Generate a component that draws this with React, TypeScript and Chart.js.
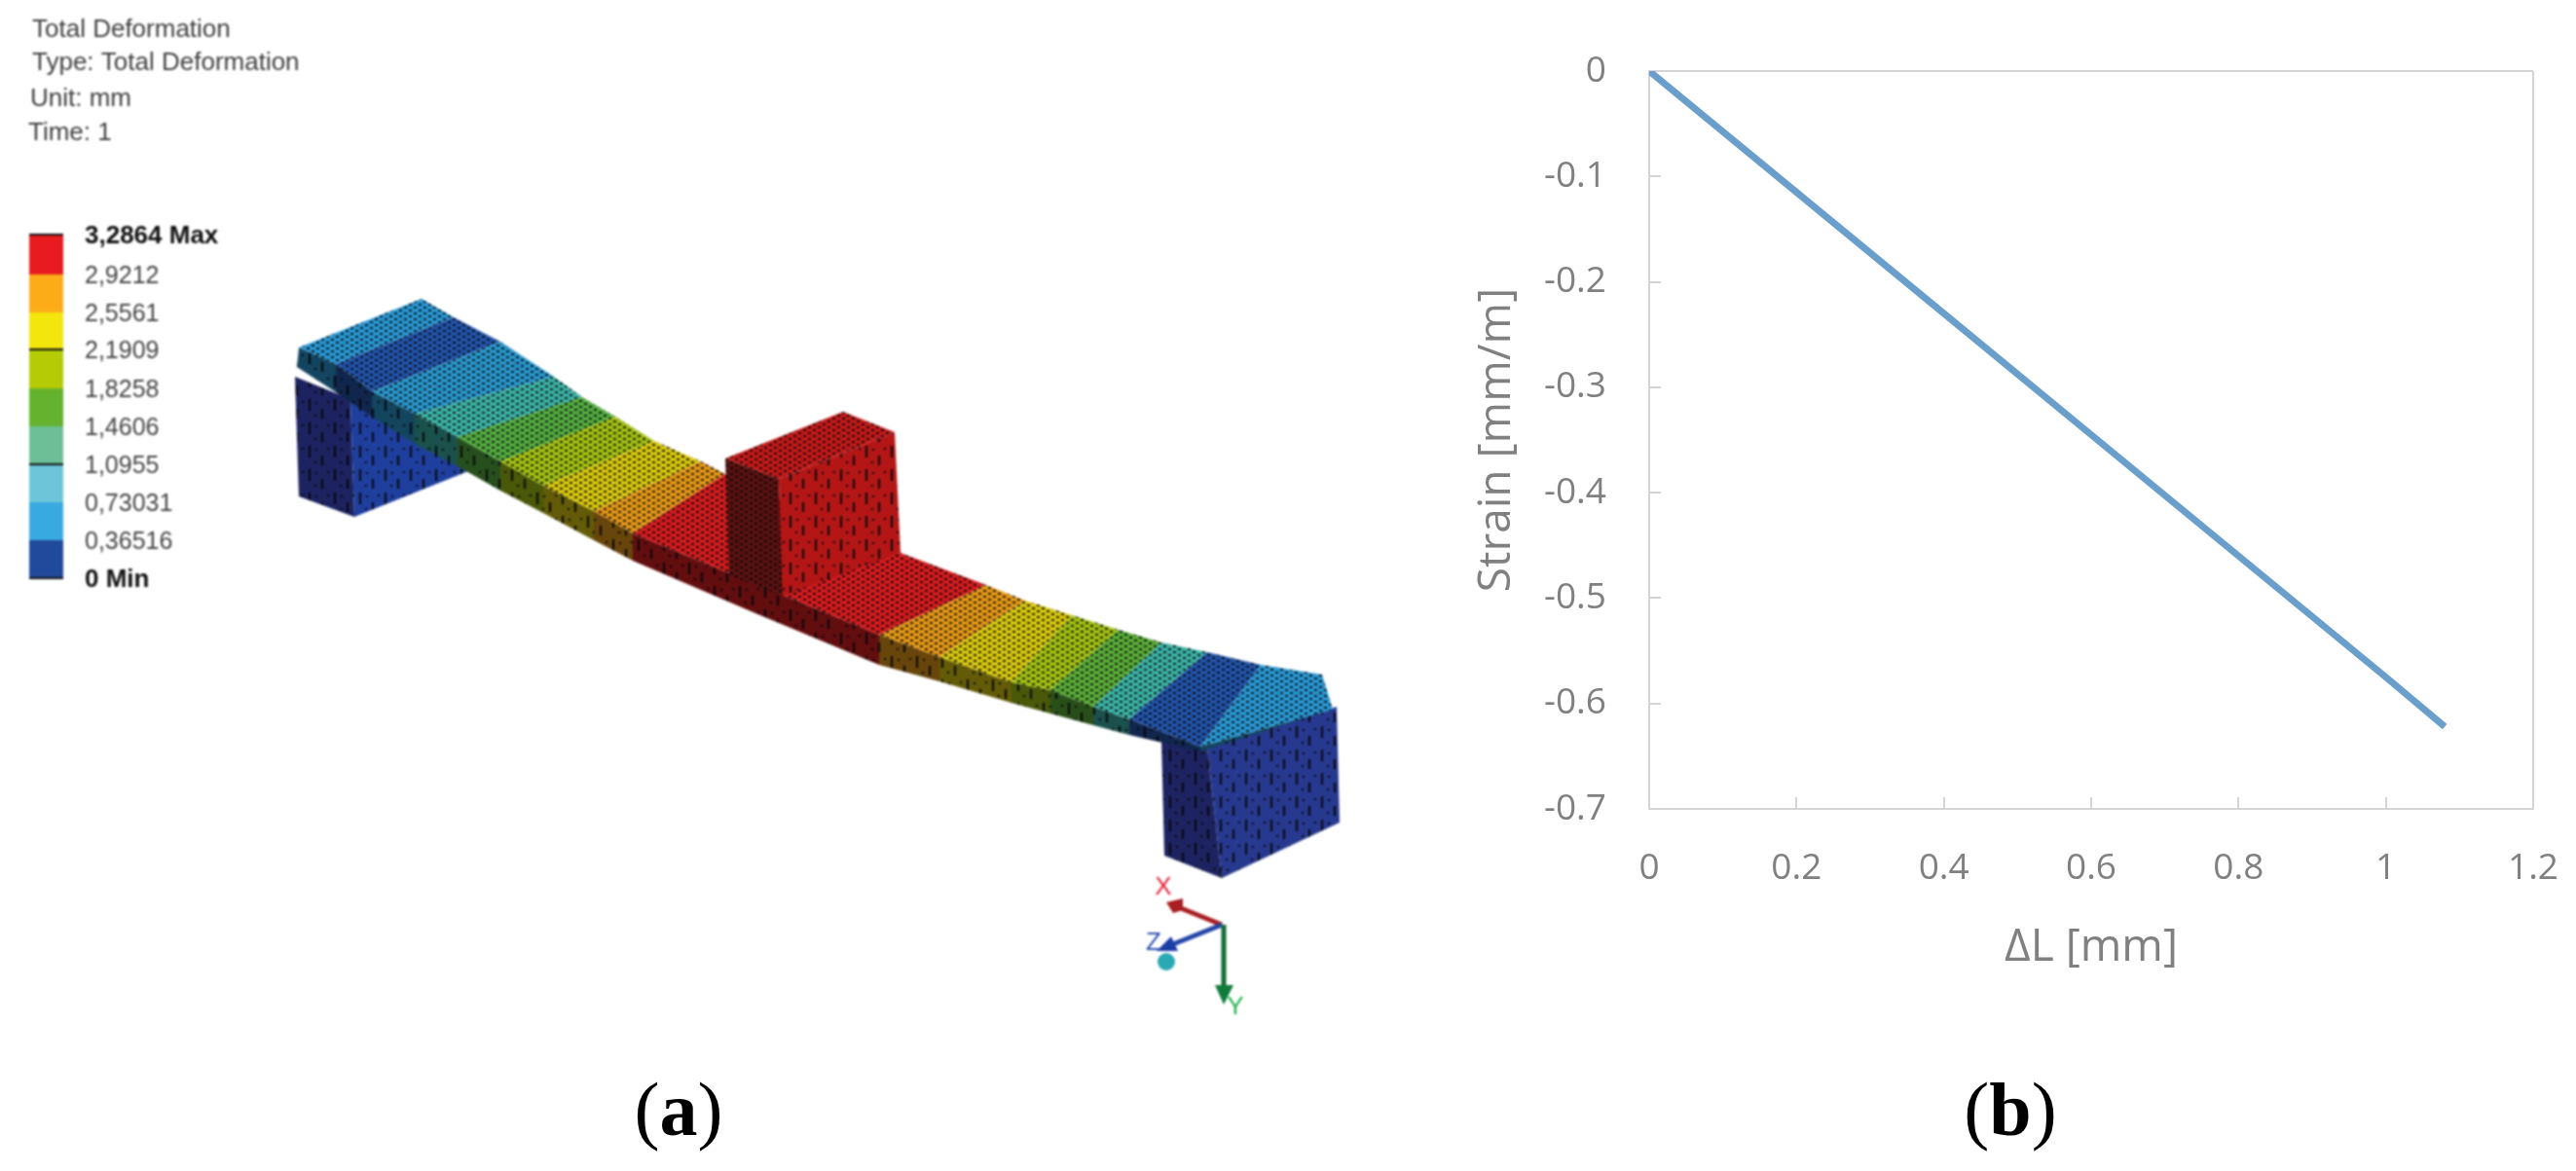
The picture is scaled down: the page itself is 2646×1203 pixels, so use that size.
import React, { useEffect, useRef } from "react";
import Chart from "chart.js/auto";

type Pt = [number, number];

const WIDTH = 2646;
const HEIGHT = 1203;

// panel (b)
const lengthChange = [0, 0.2, 0.4, 0.6, 0.8, 1, 1.08];
const strain = [0, -0.115, -0.23, -0.345, -0.46, -0.575, -0.622];
const xTickLabels = ["0", "0.2", "0.4", "0.6", "0.8", "1", "1.2"];
const yTickLabels = ["-0.7", "-0.6", "-0.5", "-0.4", "-0.3", "-0.2", "-0.1", "0"];

// panel (a) header + colour bar
const headerLines = ["Total Deformation", "Type: Total Deformation", "Unit: mm", "Time: 1"];
const headerRows = [31, 65, 102, 137];
const headerColumns = [33, 33, 31, 29];
const legendLabels = ["3,2864 Max", "2,9212", "2,5561", "2,1909", "1,8258", "1,4606", "1,0955", "0,73031", "0,36516", "0 Min"];
const legendEdges = [241, 282, 321, 359, 399, 438, 477, 516, 555, 594];
const legendLines = [241, 359, 477, 594];
const legendColors = ["#e81c20", "#fbac18", "#f3e60d", "#b4cb05", "#65b22e", "#6dbf97", "#6cc5d8", "#39a9e1", "#224a9c"];

// panel (a) beam
const backEdge: Pt[] = [[433, 307], [466, 326], [514, 351], [569, 387], [598, 408], [632, 428], [672, 453], [720, 474], [745, 487], [925, 568], [1013, 601], [1053, 617], [1101, 632], [1149, 647], [1193, 660], [1240, 670], [1295, 683], [1358, 693]];
const frontEdge: Pt[] = [[307, 357], [345, 374], [382, 402], [426, 425], [470, 449], [514, 474], [558, 499], [610, 525], [650, 548], [776, 600], [903, 652], [965, 675], [1039, 701], [1079, 709], [1123, 726], [1160, 739], [1233, 767], [1369, 729]];
const lowerEdge: Pt[] = [[305, 377], [345, 403], [382, 428], [426, 456], [470, 479], [514, 504], [558, 527], [610, 555], [650, 576], [776, 630], [903, 683], [965, 700], [1039, 722], [1079, 733], [1123, 745], [1160, 755], [1233, 772], [1369, 729]];
const bandColors = ["#2a9ad6", "#2355ac", "#2a9ad0", "#3db5a8", "#55b040", "#a5c414", "#dccb10", "#e89a18", "#d91c1f", "#d91c1f", "#e89a18", "#dccb10", "#a5c414", "#5cb038", "#3db5a8", "#2355ac", "#2a9ad6"];

const leftBlockDark: Pt[] = [[303, 387], [360, 410], [364, 531], [307, 510]];
const leftBlockBlue: Pt[] = [[360, 410], [481, 484], [364, 531]];
const rightBlockDark: Pt[] = [[1193, 760], [1240, 768], [1255, 902], [1196, 879]];
const rightBlockBlue: Pt[] = [[1240, 768], [1373, 726], [1376, 845], [1255, 902]];
const loadTop: Pt[] = [[745, 471], [866, 423], [919, 444], [800, 492]];
const loadDark: Pt[] = [[745, 471], [800, 492], [804, 612], [749, 591]];
const loadFront: Pt[] = [[800, 492], [919, 444], [925, 568], [804, 612]];

// axis triad
const triadX: Pt[] = [[1255, 950], [1208, 931]];
const triadZ: Pt[] = [[1255, 950], [1200, 972]];
const triadY: Pt[] = [[1257, 950], [1257, 1013]];
const arrowX: Pt[] = [[1198, 927], [1215, 923], [1215, 935], [1205, 938]];
const arrowZ: Pt[] = [[1203, 962], [1210, 977], [1188, 977]];
const arrowY: Pt[] = [[1248, 1012], [1267, 1012], [1257, 1032]];
const triadOrigin: Pt[] = [[1198, 988]];
const triadLabels = ["X", "Z", "Y"];
const triadLabelPoints: Pt[] = [[1195, 912], [1185, 969], [1269, 1035]];
const triadLabelColors = ["#e8243c", "#2a50b0", "#22b14c"];

function shade(hex: string, k: number) {
  const n = parseInt(hex.slice(1), 16);
  const ch = (v: number) => Math.round(v * k);
  return `rgb(${ch((n >> 16) & 255)},${ch((n >> 8) & 255)},${ch(n & 255)})`;
}

// mesh stipple on the top faces, short dashes on the side faces
function mesh(color: string, kind: "top" | "side") {
  const c = document.createElement("canvas");
  const g = c.getContext("2d") as CanvasRenderingContext2D;
  if (kind === "top") {
    c.width = 10;
    c.height = 6;
    g.fillStyle = color;
    g.fillRect(0, 0, 10, 6);
    g.fillStyle = "#05060a";
    g.fillRect(0, 0, 3, 2);
    g.fillRect(5, 3, 3, 2);
  } else {
    c.width = 26;
    c.height = 24;
    g.fillStyle = color;
    g.fillRect(0, 0, 26, 24);
    g.fillStyle = "#05060a";
    g.fillRect(5, 2, 2, 12);
    g.fillRect(18, 12, 2, 10);
    g.fillRect(12, 5, 2, 2);
    g.fillRect(24, 4, 2, 2);
    g.fillRect(11, 18, 2, 2);
  }
  return g.createPattern(c, "repeat") as CanvasPattern;
}

function polygon(points: Pt[], fill: string | CanvasPattern) {
  return {
    data: points.map(([x, y]) => ({ x, y })),
    showLine: true,
    fill: "shape",
    backgroundColor: fill,
    borderWidth: 0,
    pointRadius: 0,
    tension: 0,
  };
}

function stroke(points: Pt[], color: string, width: number) {
  return {
    data: points.map(([x, y]) => ({ x, y })),
    showLine: true,
    fill: false,
    borderColor: color,
    borderWidth: width,
    pointRadius: 0,
    tension: 0,
  };
}

const panelText = {
  id: "panelText",
  afterDatasetsDraw(chart: Chart) {
    const ctx = chart.ctx;
    ctx.save();
    ctx.textBaseline = "middle";
    ctx.textAlign = "left";
    ctx.font = "26px 'Liberation Sans'";
    ctx.fillStyle = "#3f3f3f";
    headerLines.forEach((t, i) => ctx.fillText(t, headerColumns[i], headerRows[i]));
    legendLabels.forEach((t, i) => {
      const bold = i === 0 || i === legendLabels.length - 1;
      ctx.font = `${bold ? "bold 26px" : "25px"} 'Liberation Sans'`;
      ctx.fillStyle = bold ? "#111" : "#444";
      ctx.fillText(t, 87, legendEdges[i] + 2);
    });
    ctx.font = "26px 'Liberation Sans'";
    ctx.textAlign = "center";
    triadLabels.forEach((t, i) => {
      ctx.fillStyle = triadLabelColors[i];
      ctx.fillText(t, triadLabelPoints[i][0], triadLabelPoints[i][1]);
    });
    ctx.restore();
  },
};

function ModelPanel() {
  const canvasRef = useRef<HTMLCanvasElement | null>(null);

  useEffect(() => {
    if (!canvasRef.current) return;

    const datasets: any[] = [];
    legendColors.forEach((color, i) => {
      const [a, b] = [legendEdges[i], legendEdges[i + 1]];
      datasets.push(polygon([[30, a], [65, a], [65, b], [30, b]], color));
    });
    legendLines.forEach((y) => datasets.push(stroke([[30, y], [65, y]], "#111", 2)));

    datasets.push(polygon(leftBlockDark, mesh("#1d2360", "side")));
    datasets.push(polygon(leftBlockBlue, mesh("#1f3f9e", "side")));
    datasets.push(polygon(rightBlockDark, mesh("#1d2360", "side")));
    datasets.push(polygon(rightBlockBlue, mesh("#27398f", "side")));

    bandColors.forEach((color, i) => {
      datasets.push(polygon([frontEdge[i], frontEdge[i + 1], lowerEdge[i + 1], lowerEdge[i]], mesh(shade(color, 0.45), "side")));
      datasets.push(polygon([backEdge[i], backEdge[i + 1], frontEdge[i + 1], frontEdge[i]], mesh(color, "top")));
    });

    datasets.push(polygon(loadDark, mesh("#5c1210", "top")));
    datasets.push(polygon(loadFront, mesh("#b41616", "side")));
    datasets.push(polygon(loadTop, mesh("#c81a1a", "top")));

    datasets.push(stroke(triadX, "#a81e22", 5));
    datasets.push(stroke(triadZ, "#2446a8", 5));
    datasets.push(stroke(triadY, "#146b34", 5));
    datasets.push(polygon(arrowX, "#a81e22"));
    datasets.push(polygon(arrowZ, "#1d3ea6"));
    datasets.push(polygon(arrowY, "#0f7a3a"));
    datasets.push({
      data: triadOrigin.map(([x, y]) => ({ x, y })),
      pointRadius: 9,
      backgroundColor: "#2aa8b4",
      borderWidth: 0,
    });

    // chart.js paints the first dataset last, the list above runs back to front
    datasets.reverse();

    const chart = new Chart(canvasRef.current, {
      type: "scatter",
      data: { datasets },
      options: {
        animation: false,
        responsive: false,
        devicePixelRatio: 1,
        layout: { padding: 0, autoPadding: false },
        plugins: { legend: { display: false }, tooltip: { enabled: false } },
        scales: {
          x: { display: false, min: 0, max: 1450 },
          y: { display: false, min: 0, max: HEIGHT, reverse: true },
        },
      },
      plugins: [panelText],
    });

    return () => chart.destroy();
  }, []);

  return (
    <canvas
      ref={canvasRef}
      width={1450}
      height={HEIGHT}
      style={{ position: "absolute", left: 0, top: 0, filter: "blur(0.8px)" }}
    />
  );
}

function StrainPanel() {
  const canvasRef = useRef<HTMLCanvasElement | null>(null);

  useEffect(() => {
    if (!canvasRef.current) return;

    const tickFont = { family: "'Open Sans'", size: 37 };
    const titleFont = { family: "'Open Sans'", size: 46 };
    const frame = "#d4d4d4";

    const chart = new Chart(canvasRef.current, {
      type: "line",
      data: {
        datasets: [
          {
            data: lengthChange.map((x, i) => ({ x, y: strain[i] })),
            borderColor: "#6a9fcb",
            borderWidth: 7,
            pointRadius: 0,
            tension: 0,
            fill: false,
          },
        ],
      },
      options: {
        animation: false,
        responsive: false,
        devicePixelRatio: 1,
        layout: { padding: { top: 73, right: 44, left: 0, bottom: 0 }, autoPadding: false },
        plugins: { legend: { display: false }, tooltip: { enabled: false } },
        scales: {
          x: {
            type: "linear",
            min: 0,
            max: 1.2,
            afterFit: (s: any) => {
              s.height = 372;
              s.paddingLeft = 0;
              s.paddingRight = 0;
            },
            border: { color: frame, width: 2 },
            grid: {
              color: (c: any) => (c.index === 6 ? frame : "transparent"),
              lineWidth: 2,
              tickColor: frame,
              tickLength: -12,
            },
            ticks: {
              stepSize: 0.2,
              font: tickFont,
              color: "#808080",
              padding: 51,
              maxRotation: 0,
              callback: (_v: any, i: number) => xTickLabels[i],
            },
            title: {
              display: true,
              text: "ΔL [mm]",
              font: titleFont,
              color: "#808080",
              padding: { top: 0, bottom: 202 },
            },
          },
          y: {
            min: -0.7,
            max: 0,
            afterFit: (s: any) => {
              s.width = 244;
              s.paddingTop = 0;
              s.paddingBottom = 0;
            },
            border: { color: frame, width: 2 },
            grid: {
              color: (c: any) => (c.index === 7 ? frame : "transparent"),
              lineWidth: 2,
              tickColor: frame,
              tickLength: -12,
            },
            ticks: {
              stepSize: 0.1,
              font: tickFont,
              color: "#808080",
              padding: 56,
              callback: (_v: any, i: number) => yTickLabels[i],
            },
            title: {
              display: true,
              text: "Strain [mm/m]",
              font: titleFont,
              color: "#808080",
              padding: { top: 60, bottom: 0 },
            },
          },
        },
      },
    });

    return () => chart.destroy();
  }, []);

  return (
    <canvas
      ref={canvasRef}
      width={WIDTH - 1450}
      height={HEIGHT}
      style={{ position: "absolute", left: 1450, top: 0, filter: "blur(0.6px)" }}
    />
  );
}

const captionStyle: React.CSSProperties = {
  position: "absolute",
  top: 1095,
  width: 200,
  textAlign: "center",
  fontFamily: "'Liberation Serif'",
  fontSize: 78,
  lineHeight: "90px",
  color: "#000",
};

export default function App() {
  useEffect(() => {
    document.body.style.margin = "0";
    document.body.style.background = "#fff";
  }, []);

  return (
    <div style={{ position: "relative", width: WIDTH, height: HEIGHT, overflow: "hidden" }}>
      <ModelPanel />
      <StrainPanel />
      <div style={{ ...captionStyle, left: 597 }}>
        (<b>a</b>)
      </div>
      <div style={{ ...captionStyle, left: 1965 }}>
        (<b>b</b>)
      </div>
    </div>
  );
}
